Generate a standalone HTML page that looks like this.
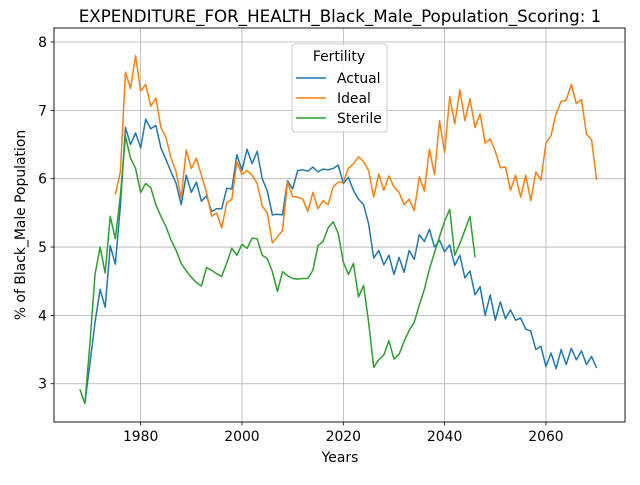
<!DOCTYPE html>
<html><head><meta charset="utf-8"><style>
body{margin:0;background:#fff;}
svg{font-family:"DejaVu Sans","Liberation Sans",sans-serif;}
</style></head><body>
<svg id="chart" width="640" height="480" viewBox="0 0 640 480">
<rect width="640" height="480" fill="#fff"/>
<text x="340" y="22" text-anchor="middle" font-size="16.7">EXPENDITURE_FOR_HEALTH_Black_Male_Population_Scoring: 1</text>
<g id="grid"></g>
<g id="series"></g>
<rect x="54" y="28" width="571" height="394" fill="none" stroke="#000" stroke-width="0.9"/>
<g id="axes"></g>
<text x="340" y="462" text-anchor="middle" font-size="13.9">Years</text>
<text transform="translate(25,225) rotate(-90)" text-anchor="middle" font-size="13.9">% of Black_Male Population</text>
<g>
<rect x="292" y="44" width="95" height="88" rx="3" fill="#fff" fill-opacity="0.8" stroke="#ccc"/>
<text x="339" y="61" text-anchor="middle" font-size="13.9">Fertility</text>
<line x1="296" y1="78" x2="326" y2="78" stroke="#1f77b4" stroke-width="1.5"/>
<text x="337" y="83" font-size="13.9">Actual</text>
<line x1="296" y1="98" x2="326" y2="98" stroke="#ff7f0e" stroke-width="1.5"/>
<text x="337" y="103" font-size="13.9">Ideal</text>
<line x1="296" y1="118" x2="326" y2="118" stroke="#2ca02c" stroke-width="1.5"/>
<text x="337" y="123" font-size="13.9">Sterile</text>
</g>
</svg>
<script>
const xTicks = [1980, 2000, 2020, 2040, 2060];
const yTicks = [3, 4, 5, 6, 7, 8];
const actualStart = 1969;
const actualValues = [2.72,3.3,3.9,4.38,4.12,5.02,4.75,5.6,6.75,6.5,6.67,6.45,6.87,6.73,6.78,6.45,6.28,6.1,5.93,5.62,6.05,5.8,5.95,5.67,5.75,5.52,5.56,5.56,5.86,5.85,6.35,6.12,6.43,6.22,6.4,6.0,5.82,5.47,5.48,5.47,5.97,5.85,6.12,6.13,6.11,6.17,6.1,6.14,6.13,6.15,6.2,5.93,6.02,5.83,5.7,5.62,5.34,4.84,4.95,4.74,4.88,4.6,4.85,4.63,4.95,4.82,5.18,5.08,5.26,5.0,5.1,4.93,5.03,4.73,4.88,4.55,4.65,4.3,4.42,4.0,4.3,3.93,4.2,3.95,4.08,3.93,3.96,3.8,3.77,3.5,3.55,3.25,3.45,3.22,3.5,3.28,3.52,3.35,3.48,3.28,3.4,3.23];
const idealStart = 1975;
const idealValues = [5.77,6.1,7.56,7.32,7.8,7.28,7.38,7.06,7.18,6.75,6.6,6.3,6.1,5.72,6.42,6.15,6.3,6.05,5.8,5.45,5.5,5.28,5.65,5.7,6.25,6.06,6.12,6.05,5.93,5.6,5.5,5.06,5.15,5.24,5.95,5.74,5.73,5.7,5.52,5.8,5.56,5.68,5.62,5.88,5.95,5.95,6.15,6.22,6.32,6.25,6.12,5.73,6.07,5.83,6.04,5.88,5.8,5.62,5.7,5.53,6.03,5.82,6.43,6.06,6.85,6.38,7.2,6.8,7.3,6.85,7.17,6.75,6.95,6.52,6.58,6.4,6.16,6.17,5.83,6.05,5.73,6.05,5.68,6.1,5.98,6.52,6.63,6.95,7.13,7.15,7.38,7.1,7.16,6.65,6.57,5.98];
const sterileStart = 1968;
const sterileValues = [2.92,2.71,3.6,4.6,5.0,4.62,5.45,5.12,5.75,6.62,6.3,6.15,5.8,5.93,5.87,5.62,5.45,5.3,5.1,4.95,4.76,4.65,4.56,4.48,4.43,4.7,4.66,4.61,4.57,4.77,4.98,4.88,5.04,4.98,5.13,5.12,4.88,4.83,4.64,4.35,4.64,4.58,4.54,4.53,4.54,4.54,4.66,5.02,5.08,5.28,5.37,5.2,4.78,4.6,4.76,4.27,4.44,3.9,3.24,3.35,3.42,3.63,3.36,3.43,3.62,3.78,3.9,4.15,4.38,4.68,4.92,5.15,5.38,5.55,4.88,5.05,5.25,5.45,4.85];

const NS = "http://www.w3.org/2000/svg";
const L = 54, R = 625, T = 28, B = 422;
const X0 = 1962.9, X1 = 2075.6, Y0 = 2.44, Y1 = 8.205;
function sx(v){ return L + (v - X0) / (X1 - X0) * (R - L); }
function sy(v){ return B - (v - Y0) / (Y1 - Y0) * (B - T); }
function mk(tag, attrs, parent){ const e = document.createElementNS(NS, tag); for (const k in attrs) e.setAttribute(k, attrs[k]); parent.appendChild(e); return e; }
const grid = document.getElementById('grid'), axes = document.getElementById('axes'), series = document.getElementById('series');
xTicks.forEach(t => {
  const x = sx(t);
  const g = mk('line', {x1:x, x2:x, y1:T, y2:B, stroke:'#b0b0b0', 'stroke-width':0.8}, grid);
  
  
  mk('line', {x1:x, x2:x, y1:B, y2:B+3.5, stroke:'#000', 'stroke-width':0.8}, axes);
  const tx = mk('text', {x:x, y:B+19, 'text-anchor':'middle', 'font-size':13.9}, axes);
  tx.textContent = t;
  
  
});
yTicks.forEach(t => {
  const y = sy(t);
  const g = mk('line', {x1:L, x2:R, y1:y, y2:y, stroke:'#b0b0b0', 'stroke-width':0.8}, grid);
  
  
  mk('line', {x1:L-3.5, x2:L, y1:y, y2:y, stroke:'#000', 'stroke-width':0.8}, axes);
  const tx = mk('text', {x:L-7, y:y+5, 'text-anchor':'end', 'font-size':13.9}, axes);
  tx.textContent = t;
  
  
});
function draw(start, vals, color, name){
  const pts = vals.map((v, i) => sx(start + i).toFixed(2) + ',' + sy(v).toFixed(2)).join(' ');
  const p = mk('polyline', {points:pts, fill:'none', stroke:color, 'stroke-width':1.5, 'stroke-linejoin':'round'}, series);
  
  
}
draw(actualStart, actualValues, '#1f77b4', 'actual-line');
draw(idealStart, idealValues, '#ff7f0e', 'ideal-line');
draw(sterileStart, sterileValues, '#2ca02c', 'sterile-line');
</script>
</body></html>
